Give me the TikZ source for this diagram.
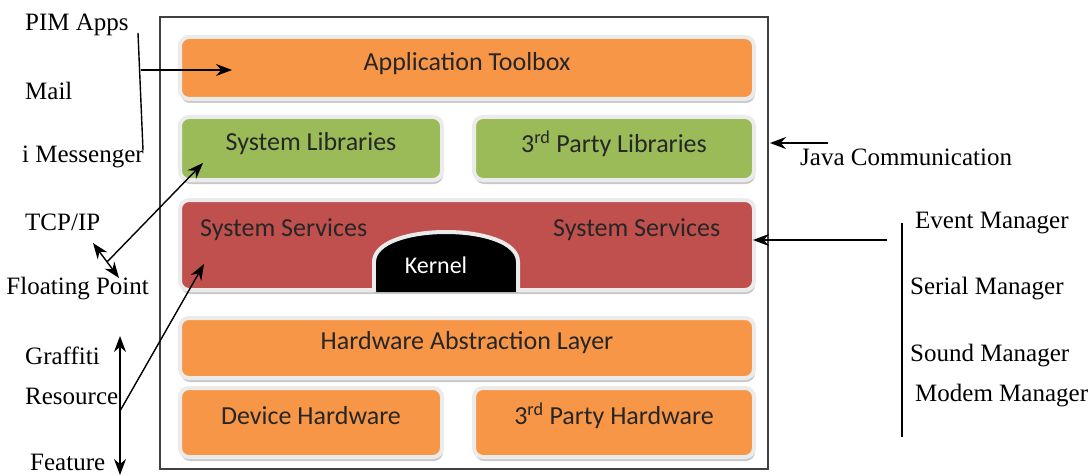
\documentclass[tikz,border=0pt]{standalone}
\usepackage{fontspec}
\setmainfont{Liberation Serif}
\newfontfamily\boxfont{Carlito}
\usetikzlibrary{arrows.meta,shadows}
\definecolor{aorange}{HTML}{F79646}
\definecolor{agreen}{HTML}{9BBB59}
\definecolor{ared}{HTML}{C0504D}
\definecolor{halo}{HTML}{EBEBEB}
\definecolor{frame}{HTML}{404040}
\begin{document}
\begin{tikzpicture}[x=1pt,y=-1pt,
  layer/.style={rounded corners=9pt, draw=halo, line width=4pt, anchor=north west,
    inner sep=0pt,
    drop shadow={shadow xshift=1pt, shadow yshift=-4pt, fill=black!35, opacity=0.6}},
  boxtext/.style={inner sep=0pt, text=black!85, font=\boxfont\fontsize{26}{30}\selectfont},
  lbl/.style={anchor=west, inner sep=0pt, text=black, font=\fontsize{25}{29}\selectfont},
  arr/.style={-{Stealth[length=16pt,width=12pt]}, line width=1.4pt},
  darr/.style={{Stealth[length=16pt,width=12pt]}-{Stealth[length=16pt,width=12pt]}, line width=1.4pt},
  plain/.style={line width=1.4pt}
]
\useasboundingbox (0,0) rectangle (1089,476);

% outer frame
\draw[frame, line width=1.3pt] (160,17) rectangle (768,469);

% layers
\node[layer, fill=aorange, minimum width=574pt, minimum height=62pt] (app) at (178,35) {};
\node[layer, fill=agreen, minimum width=262pt, minimum height=63pt] (syslib) at (178,115) {};
\node[layer, fill=agreen, minimum width=280pt, minimum height=63pt] (party) at (472,115) {};
\node[layer, fill=ared, minimum width=574pt, minimum height=90pt] (serv) at (178,198) {};
\node[layer, fill=aorange, minimum width=574pt, minimum height=60pt] (hal) at (178,316) {};
\node[layer, fill=aorange, minimum width=262pt, minimum height=69pt] (dev) at (178,386) {};
\node[layer, fill=aorange, minimum width=280pt, minimum height=69pt] (phw) at (472,386) {};

\node[boxtext] (appt) at ([yshift=4pt]app.center) {Application Toolbox};
\node[boxtext] (syslibt) at ([yshift=5pt]syslib.center) {System Libraries};
\node[boxtext] (partyt) at ([yshift=5pt]party.center) {3\textsuperscript{rd} Party Libraries};
\node[boxtext, anchor=west] (ssl) at (200,230) {System Services};
\node[boxtext, anchor=west] (ssr) at (553,230) {System Services};
\node[boxtext] (halt) at ([yshift=5pt]hal.center) {Hardware Abstraction Layer};
\node[boxtext] (devt) at ([yshift=7pt]dev.center) {Device Hardware};
\node[boxtext] (phwt) at ([yshift=7pt]phw.center) {3\textsuperscript{rd} Party Hardware};

% kernel
\filldraw[fill=black, draw=halo, line width=4pt]
  (374,292) -- (374,262) .. controls (374,222) and (518,222) .. (518,262) -- (518,292);
\fill[black] (376,262) rectangle (516,290);
\node[text=white, font=\boxfont\fontsize{24}{28}\selectfont] (kernel) at (436,265) {Kernel};

% left labels
\node[lbl] (pim) at (25,25) {PIM Apps};
\node[lbl] (mail) at (25,91) {Mail};
\node[lbl] (imsg) at (22,157) {i Messenger};
\node[lbl] (tcp) at (25,222) {TCP/IP};
\node[lbl, anchor=east] (fp) at (149,289) {Floating Point};
\node[lbl] (graf) at (25,356) {Graffiti};
\node[lbl] (res) at (25,396) {Resource};
\node[lbl] (feat) at (30,462) {Feature};

% right labels
\node[lbl] (java) at (800,157) {Java Communication};
\node[lbl] (event) at (915,223) {Event Manager};
\node[lbl] (serial) at (910,289) {Serial Manager};
\node[lbl] (sound) at (910,356) {Sound Manager};
\node[lbl] (modem) at (915,396) {Modem Manager};

% coordinates for connectors
\coordinate (pimtop) at (138,33);
\coordinate (pimbot) at (143,150);
\coordinate (pimsrc) at (141,70);
\coordinate (apptip) at (232,70);
\coordinate (fpa) at (93,243);
\coordinate (fpb) at (119,278);
\coordinate (fpm) at (107,262);
\coordinate (libtip) at (203,163);
\coordinate (ressrc) at (120,411);
\coordinate (servtip) at (204,264);
\coordinate (vtop) at (120,336);
\coordinate (vbot) at (120,475);
\coordinate (javasrc) at (828,143);
\coordinate (javatip) at (770,143);
\coordinate (evsrc) at (887,240);
\coordinate (evtip) at (753,240);
\coordinate (rtop) at (902,223);
\coordinate (rbot) at (902,437);

% connectors
\draw[plain] (pimtop) -- (pimbot);
\draw[arr] (pimsrc) -- (apptip);
\draw[darr] (fpa) -- (fpb);
\draw[arr] (fpm) -- (libtip);
\draw[arr] (ressrc) -- (servtip);
\draw[darr] (vtop) -- (vbot);
\draw[arr] (javasrc) -- (javatip);
\draw[arr] (evsrc) -- (evtip);
\draw[plain] (rtop) -- (rbot);
\end{tikzpicture}
\end{document}
